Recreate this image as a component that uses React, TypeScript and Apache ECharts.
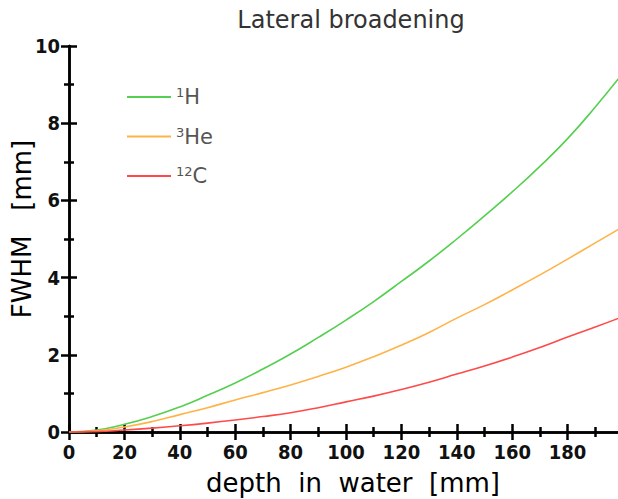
import React, { useEffect, useRef } from "react";
import * as echarts from "echarts";

const depth = [0, 10, 20, 30, 40, 50, 60, 70, 80, 90, 100, 110, 120, 130, 140, 150, 160, 170, 180, 190, 200];
const protonH = [0, 0.05, 0.2, 0.4, 0.65, 0.95, 1.27, 1.63, 2.02, 2.45, 2.9, 3.38, 3.9, 4.43, 5.0, 5.6, 6.22, 6.88, 7.6, 8.42, 9.3];
const heliumHe = [0, 0.03, 0.13, 0.27, 0.45, 0.63, 0.83, 1.02, 1.22, 1.44, 1.68, 1.95, 2.25, 2.58, 2.95, 3.3, 3.68, 4.07, 4.48, 4.9, 5.32];
const carbonC = [0, 0.01, 0.05, 0.1, 0.16, 0.23, 0.31, 0.4, 0.5, 0.63, 0.78, 0.93, 1.1, 1.29, 1.5, 1.71, 1.94, 2.19, 2.46, 2.72, 2.99];
const seriesNames = ["1H", "3He", "12C"];
const seriesColors = ["#55cf4f", "#ffb347", "#ff4a4a"];
const legendRich: Record<string, string> = {
  "1H": "{sup|1}{txt|H}",
  "3He": "{sup|3}{txt|He}",
  "12C": "{sup|12}{txt|C}",
};
const yAxisTitle = "FWHM   [mm]";

const tickFont = { fontFamily: "DejaVu Sans Condensed, DejaVu Sans, sans-serif", fontWeight: "bold" as const, fontSize: 20, color: "#111" };

export default function App() {
  const ref = useRef<HTMLDivElement>(null);
  useEffect(() => {
    if (!ref.current) return;
    const chart = echarts.init(ref.current, null, { renderer: "svg" });
    const axisCommon = {
      axisLine: { show: true, lineStyle: { color: "#000", width: 2.5 } },
      axisTick: { show: true, inside: true, length: 8, lineStyle: { color: "#000", width: 2.5 } },
      minorTick: { show: true, splitNumber: 2, length: 5, lineStyle: { color: "#000", width: 2.5 } },
      splitLine: { show: false },
    };
    const datasets = [protonH, heliumHe, carbonC];
    chart.setOption({
      animation: false,
      backgroundColor: "#fff",
      title: {
        text: "Lateral broadening",
        left: 346,
        textAlign: "center",
        top: 3,
        textStyle: { fontFamily: "DejaVu Sans", fontWeight: "normal", fontSize: 24, color: "#333" },
      },
      grid: { left: 69, top: 46, width: 554, height: 386, containLabel: false, outerBoundsMode: "none" },
      graphic: [
        {
          type: "text",
          x: 22,
          y: 229,
          rotation: Math.PI / 2,
          style: {
            text: yAxisTitle,
            fontFamily: "DejaVu Sans",
            fontSize: 26,
            fill: "#000",
            align: "center",
            verticalAlign: "middle",
          },
        },
      ],
      legend: {
        orient: "vertical",
        left: 122,
        top: 81,
        itemGap: 18,
        itemWidth: 44,
        itemHeight: 20,
        icon: "path://M0,9 L44,9 L44,11 L0,11 Z",
        data: seriesNames,
        formatter: (n: string) => legendRich[n],
        textStyle: {
          rich: {
            sup: { fontFamily: "DejaVu Sans", fontSize: 13, color: "#555", padding: [0, 0, 9, 0] },
            txt: { fontFamily: "DejaVu Sans", fontSize: 21, color: "#555" },
          },
        },
      },
      xAxis: [
        {
          type: "value",
          min: 0,
          max: 200,
          interval: 20,
          position: "bottom",
          ...axisCommon,
          axisLabel: {
            ...tickFont,
            margin: 10,
            showMaxLabel: false,
          },
          name: "depth  in  water  [mm]",
          nameLocation: "middle",
          nameGap: 38,
          nameTextStyle: { fontFamily: "DejaVu Sans", fontSize: 26, color: "#000", padding: [0, 0, 0, 14] },
        },
        {
          type: "value",
          min: 0,
          max: 200,
          interval: 20,
          position: "top",
          ...axisCommon,
          axisLabel: { show: false },
        },
      ],
      yAxis: [
        {
          type: "value",
          min: 0,
          max: 10,
          interval: 2,
          position: "left",
          ...axisCommon,
          axisLabel: { ...tickFont, margin: 9 },
        },
        {
          type: "value",
          min: 0,
          max: 10,
          interval: 2,
          position: "right",
          ...axisCommon,
          axisLabel: { show: false },
        },
      ],
      series: seriesNames.map((name, i) => ({
        name,
        type: "line",
        smooth: true,
        showSymbol: false,
        symbol: "none",
        color: seriesColors[i],
        lineStyle: { width: 1.6, color: seriesColors[i] },
        data: depth.map((d, j) => [d, datasets[i][j]]),
      })),
    });
    return () => chart.dispose();
  }, []);
  return (
    <div
      ref={ref}
      style={{ position: "fixed", left: 0, top: 0, width: 618, height: 499 }}
    />
  );
}
